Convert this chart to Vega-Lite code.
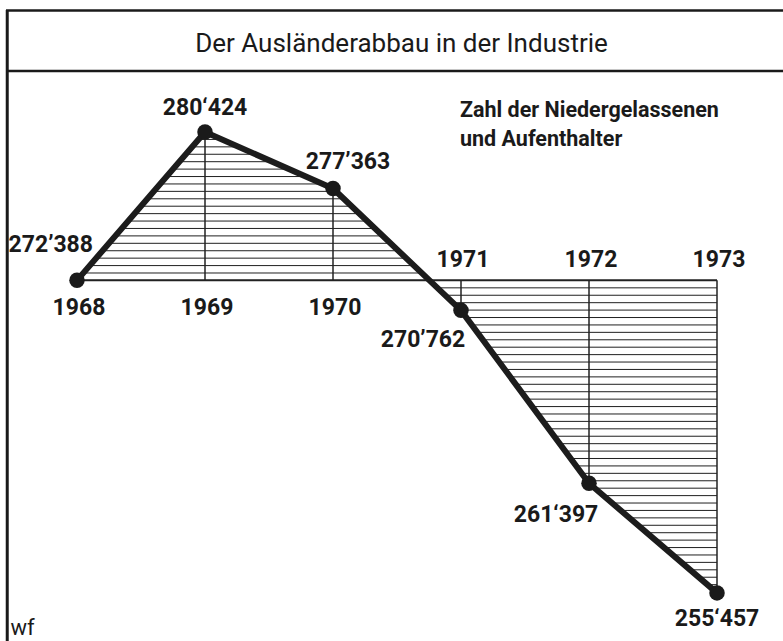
{
  "$schema": "https://vega.github.io/schema/vega-lite/v6.json",
  "width": 777,
  "height": 631,
  "autosize": {"type": "none"},
  "padding": {"left": 6, "top": 10, "right": 0, "bottom": 0},
  "background": "#ffffff",
  "config": {"view": {"stroke": null}},
  "title": {
    "text": "Der Ausländerabbau in der Industrie",
    "anchor": "middle",
    "frame": "group",
    "font": "Roboto",
    "fontSize": 26,
    "fontWeight": "normal",
    "color": "#1a1a1a",
    "baseline": "alphabetic",
    "offset": -69,
    "dx": 7
  },
  "data": {
    "values": [
      {"year": 1968, "value": 272388, "label": "272’388"},
      {"year": 1969, "value": 280424, "label": "280‘424"},
      {"year": 1970, "value": 277363, "label": "277’363"},
      {"year": 1971, "value": 270762, "label": "270’762"},
      {"year": 1972, "value": 261397, "label": "261‘397"},
      {"year": 1973, "value": 255457, "label": "255‘457"}
    ]
  },
  "layer": [
    {
      "mark": {
        "type": "area",
        "stroke": null,
        "fill": {
          "gradient": "linear", "x1": 0, "y1": 0, "x2": 0, "y2": 1,
          "stops": [
            {"offset": 0, "color": "#ffffff"},
            {"offset": 0.0139, "color": "#ffffff"}, {"offset": 0.0161, "color": "#222222"}, {"offset": 0.0183, "color": "#ffffff"},
            {"offset": 0.0300, "color": "#ffffff"}, {"offset": 0.0322, "color": "#222222"}, {"offset": 0.0344, "color": "#ffffff"},
            {"offset": 0.0461, "color": "#ffffff"}, {"offset": 0.0483, "color": "#222222"}, {"offset": 0.0505, "color": "#ffffff"},
            {"offset": 0.0622, "color": "#ffffff"}, {"offset": 0.0644, "color": "#222222"}, {"offset": 0.0666, "color": "#ffffff"},
            {"offset": 0.0783, "color": "#ffffff"}, {"offset": 0.0805, "color": "#222222"}, {"offset": 0.0827, "color": "#ffffff"},
            {"offset": 0.0944, "color": "#ffffff"}, {"offset": 0.0966, "color": "#222222"}, {"offset": 0.0988, "color": "#ffffff"},
            {"offset": 0.1105, "color": "#ffffff"}, {"offset": 0.1127, "color": "#222222"}, {"offset": 0.1149, "color": "#ffffff"},
            {"offset": 0.1266, "color": "#ffffff"}, {"offset": 0.1288, "color": "#222222"}, {"offset": 0.1310, "color": "#ffffff"},
            {"offset": 0.1427, "color": "#ffffff"}, {"offset": 0.1449, "color": "#222222"}, {"offset": 0.1471, "color": "#ffffff"},
            {"offset": 0.1588, "color": "#ffffff"}, {"offset": 0.1610, "color": "#222222"}, {"offset": 0.1632, "color": "#ffffff"},
            {"offset": 0.1749, "color": "#ffffff"}, {"offset": 0.1771, "color": "#222222"}, {"offset": 0.1793, "color": "#ffffff"},
            {"offset": 0.1910, "color": "#ffffff"}, {"offset": 0.1932, "color": "#222222"}, {"offset": 0.1954, "color": "#ffffff"},
            {"offset": 0.2071, "color": "#ffffff"}, {"offset": 0.2093, "color": "#222222"}, {"offset": 0.2115, "color": "#ffffff"},
            {"offset": 0.2232, "color": "#ffffff"}, {"offset": 0.2254, "color": "#222222"}, {"offset": 0.2276, "color": "#ffffff"},
            {"offset": 0.2393, "color": "#ffffff"}, {"offset": 0.2415, "color": "#222222"}, {"offset": 0.2437, "color": "#ffffff"},
            {"offset": 0.2554, "color": "#ffffff"}, {"offset": 0.2576, "color": "#222222"}, {"offset": 0.2598, "color": "#ffffff"},
            {"offset": 0.2715, "color": "#ffffff"}, {"offset": 0.2737, "color": "#222222"}, {"offset": 0.2759, "color": "#ffffff"},
            {"offset": 0.2876, "color": "#ffffff"}, {"offset": 0.2898, "color": "#222222"}, {"offset": 0.2920, "color": "#ffffff"},
            {"offset": 0.3037, "color": "#ffffff"}, {"offset": 0.3059, "color": "#222222"}, {"offset": 0.3081, "color": "#ffffff"},
            {"offset": 0.3198, "color": "#ffffff"}, {"offset": 0.3220, "color": "#222222"}, {"offset": 0.3242, "color": "#ffffff"},
            {"offset": 0.3359, "color": "#ffffff"}, {"offset": 0.3381, "color": "#222222"}, {"offset": 0.3403, "color": "#ffffff"},
            {"offset": 0.3520, "color": "#ffffff"}, {"offset": 0.3542, "color": "#222222"}, {"offset": 0.3564, "color": "#ffffff"},
            {"offset": 0.3681, "color": "#ffffff"}, {"offset": 0.3703, "color": "#222222"}, {"offset": 0.3725, "color": "#ffffff"},
            {"offset": 0.3842, "color": "#ffffff"}, {"offset": 0.3864, "color": "#222222"}, {"offset": 0.3886, "color": "#ffffff"},
            {"offset": 0.4003, "color": "#ffffff"}, {"offset": 0.4025, "color": "#222222"}, {"offset": 0.4047, "color": "#ffffff"},
            {"offset": 0.4164, "color": "#ffffff"}, {"offset": 0.4186, "color": "#222222"}, {"offset": 0.4208, "color": "#ffffff"},
            {"offset": 0.4325, "color": "#ffffff"}, {"offset": 0.4347, "color": "#222222"}, {"offset": 0.4369, "color": "#ffffff"},
            {"offset": 0.4486, "color": "#ffffff"}, {"offset": 0.4508, "color": "#222222"}, {"offset": 0.4530, "color": "#ffffff"},
            {"offset": 0.4647, "color": "#ffffff"}, {"offset": 0.4669, "color": "#222222"}, {"offset": 0.4691, "color": "#ffffff"},
            {"offset": 0.4808, "color": "#ffffff"}, {"offset": 0.4830, "color": "#222222"}, {"offset": 0.4852, "color": "#ffffff"},
            {"offset": 0.4969, "color": "#ffffff"}, {"offset": 0.4991, "color": "#222222"}, {"offset": 0.5013, "color": "#ffffff"},
            {"offset": 0.5130, "color": "#ffffff"}, {"offset": 0.5152, "color": "#222222"}, {"offset": 0.5174, "color": "#ffffff"},
            {"offset": 0.5291, "color": "#ffffff"}, {"offset": 0.5313, "color": "#222222"}, {"offset": 0.5335, "color": "#ffffff"},
            {"offset": 0.5452, "color": "#ffffff"}, {"offset": 0.5474, "color": "#222222"}, {"offset": 0.5496, "color": "#ffffff"},
            {"offset": 0.5613, "color": "#ffffff"}, {"offset": 0.5635, "color": "#222222"}, {"offset": 0.5657, "color": "#ffffff"},
            {"offset": 0.5774, "color": "#ffffff"}, {"offset": 0.5796, "color": "#222222"}, {"offset": 0.5818, "color": "#ffffff"},
            {"offset": 0.5935, "color": "#ffffff"}, {"offset": 0.5957, "color": "#222222"}, {"offset": 0.5979, "color": "#ffffff"},
            {"offset": 0.6096, "color": "#ffffff"}, {"offset": 0.6118, "color": "#222222"}, {"offset": 0.6140, "color": "#ffffff"},
            {"offset": 0.6257, "color": "#ffffff"}, {"offset": 0.6279, "color": "#222222"}, {"offset": 0.6301, "color": "#ffffff"},
            {"offset": 0.6418, "color": "#ffffff"}, {"offset": 0.6440, "color": "#222222"}, {"offset": 0.6462, "color": "#ffffff"},
            {"offset": 0.6579, "color": "#ffffff"}, {"offset": 0.6601, "color": "#222222"}, {"offset": 0.6623, "color": "#ffffff"},
            {"offset": 0.6740, "color": "#ffffff"}, {"offset": 0.6762, "color": "#222222"}, {"offset": 0.6784, "color": "#ffffff"},
            {"offset": 0.6901, "color": "#ffffff"}, {"offset": 0.6923, "color": "#222222"}, {"offset": 0.6945, "color": "#ffffff"},
            {"offset": 0.7062, "color": "#ffffff"}, {"offset": 0.7084, "color": "#222222"}, {"offset": 0.7106, "color": "#ffffff"},
            {"offset": 0.7223, "color": "#ffffff"}, {"offset": 0.7245, "color": "#222222"}, {"offset": 0.7267, "color": "#ffffff"},
            {"offset": 0.7384, "color": "#ffffff"}, {"offset": 0.7406, "color": "#222222"}, {"offset": 0.7428, "color": "#ffffff"},
            {"offset": 0.7545, "color": "#ffffff"}, {"offset": 0.7567, "color": "#222222"}, {"offset": 0.7589, "color": "#ffffff"},
            {"offset": 0.7706, "color": "#ffffff"}, {"offset": 0.7728, "color": "#222222"}, {"offset": 0.7750, "color": "#ffffff"},
            {"offset": 0.7867, "color": "#ffffff"}, {"offset": 0.7889, "color": "#222222"}, {"offset": 0.7911, "color": "#ffffff"},
            {"offset": 0.8028, "color": "#ffffff"}, {"offset": 0.8050, "color": "#222222"}, {"offset": 0.8072, "color": "#ffffff"},
            {"offset": 0.8189, "color": "#ffffff"}, {"offset": 0.8211, "color": "#222222"}, {"offset": 0.8233, "color": "#ffffff"},
            {"offset": 0.8350, "color": "#ffffff"}, {"offset": 0.8372, "color": "#222222"}, {"offset": 0.8394, "color": "#ffffff"},
            {"offset": 0.8511, "color": "#ffffff"}, {"offset": 0.8533, "color": "#222222"}, {"offset": 0.8555, "color": "#ffffff"},
            {"offset": 0.8672, "color": "#ffffff"}, {"offset": 0.8694, "color": "#222222"}, {"offset": 0.8716, "color": "#ffffff"},
            {"offset": 0.8833, "color": "#ffffff"}, {"offset": 0.8855, "color": "#222222"}, {"offset": 0.8877, "color": "#ffffff"},
            {"offset": 0.8994, "color": "#ffffff"}, {"offset": 0.9016, "color": "#222222"}, {"offset": 0.9038, "color": "#ffffff"},
            {"offset": 0.9155, "color": "#ffffff"}, {"offset": 0.9177, "color": "#222222"}, {"offset": 0.9199, "color": "#ffffff"},
            {"offset": 0.9316, "color": "#ffffff"}, {"offset": 0.9338, "color": "#222222"}, {"offset": 0.9360, "color": "#ffffff"},
            {"offset": 0.9477, "color": "#ffffff"}, {"offset": 0.9499, "color": "#222222"}, {"offset": 0.9521, "color": "#ffffff"},
            {"offset": 0.9638, "color": "#ffffff"}, {"offset": 0.9660, "color": "#222222"}, {"offset": 0.9682, "color": "#ffffff"},
            {"offset": 0.9799, "color": "#ffffff"}, {"offset": 0.9821, "color": "#222222"}, {"offset": 0.9843, "color": "#ffffff"},
            {"offset": 1, "color": "#ffffff"}
          ]
        }
      },
      "encoding": {
        "x": {
          "field": "year", "type": "quantitative",
          "scale": {"domain": [1967.4453, 1973.5156], "nice": false, "zero": false},
          "axis": null
        },
        "y": {
          "field": "value", "type": "quantitative",
          "scale": {"domain": [252851, 287033], "nice": false, "zero": false},
          "axis": null
        },
        "y2": {"datum": 272388}
      }
    },
    {
      "mark": {"type": "rule", "color": "#222222", "strokeWidth": 1.5},
      "encoding": {
        "x": {"field": "year", "type": "quantitative", "axis": null},
        "y": {"field": "value", "type": "quantitative", "axis": null},
        "y2": {"datum": 272388}
      }
    },
    {
      "data": {"values": [{}]},
      "mark": {"type": "rule", "color": "#222222", "strokeWidth": 2},
      "encoding": {
        "x": {"datum": 1968, "type": "quantitative", "axis": null},
        "x2": {"datum": 1973},
        "y": {"datum": 272388, "type": "quantitative", "axis": null}
      }
    },
    {
      "data": {"values": [{}]},
      "mark": {"type": "rule", "color": "#1a1a1a", "strokeWidth": 2.5},
      "encoding": {
        "y": {"datum": 283728, "type": "quantitative", "axis": null}
      }
    },
    {
      "data": {"values": [{}]},
      "mark": {"type": "rule", "color": "#1a1a1a", "strokeWidth": 2.5},
      "encoding": {
        "y": {"datum": 287000, "type": "quantitative", "axis": null}
      }
    },
    {
      "data": {"values": [{}]},
      "mark": {"type": "rule", "color": "#1a1a1a", "strokeWidth": 3},
      "encoding": {
        "x": {"datum": 1967.455, "type": "quantitative", "axis": null}
      }
    },
    {
      "mark": {"type": "line", "color": "#1c1c1c", "strokeWidth": 6, "strokeCap": "round", "strokeJoin": "round"},
      "encoding": {
        "x": {"field": "year", "type": "quantitative", "axis": null},
        "y": {"field": "value", "type": "quantitative", "axis": null}
      }
    },
    {
      "mark": {"type": "circle", "color": "#1a1a1a", "size": 240, "opacity": 1},
      "encoding": {
        "x": {"field": "year", "type": "quantitative", "axis": null},
        "y": {"field": "value", "type": "quantitative", "axis": null}
      }
    },
    {
      "transform": [{"filter": "datum.year <= 1970"}],
      "mark": {"type": "text", "font": "Roboto", "fontSize": 23, "fontWeight": "bold", "color": "#1a1a1a", "align": "center", "baseline": "middle", "dy": 27.5, "dx": 2},
      "encoding": {
        "x": {"field": "year", "type": "quantitative", "axis": null},
        "y": {"datum": 272388, "type": "quantitative", "axis": null},
        "text": {"field": "year", "type": "nominal"}
      }
    },
    {
      "transform": [{"filter": "datum.year >= 1971"}],
      "mark": {"type": "text", "font": "Roboto", "fontSize": 23, "fontWeight": "bold", "color": "#1a1a1a", "align": "center", "baseline": "middle", "dy": -20.5, "dx": 2},
      "encoding": {
        "x": {"field": "year", "type": "quantitative", "axis": null},
        "y": {"datum": 272388, "type": "quantitative", "axis": null},
        "text": {"field": "year", "type": "nominal"}
      }
    },
    {
      "transform": [{"filter": "datum.year == 1968"}],
      "mark": {"type": "text", "font": "Roboto", "fontSize": 23, "fontWeight": "bold", "color": "#1a1a1a", "align": "right", "baseline": "middle", "dx": 16, "dy": -35},
      "encoding": {
        "x": {"field": "year", "type": "quantitative", "axis": null},
        "y": {"field": "value", "type": "quantitative", "axis": null},
        "text": {"field": "label", "type": "nominal"}
      }
    },
    {
      "transform": [{"filter": "datum.year == 1969"}],
      "mark": {"type": "text", "font": "Roboto", "fontSize": 23, "fontWeight": "bold", "color": "#1a1a1a", "align": "center", "baseline": "middle", "dx": 0, "dy": -24.5},
      "encoding": {
        "x": {"field": "year", "type": "quantitative", "axis": null},
        "y": {"field": "value", "type": "quantitative", "axis": null},
        "text": {"field": "label", "type": "nominal"}
      }
    },
    {
      "transform": [{"filter": "datum.year == 1970"}],
      "mark": {"type": "text", "font": "Roboto", "fontSize": 23, "fontWeight": "bold", "color": "#1a1a1a", "align": "center", "baseline": "middle", "dx": 15, "dy": -27},
      "encoding": {
        "x": {"field": "year", "type": "quantitative", "axis": null},
        "y": {"field": "value", "type": "quantitative", "axis": null},
        "text": {"field": "label", "type": "nominal"}
      }
    },
    {
      "transform": [{"filter": "datum.year == 1971"}],
      "mark": {"type": "text", "font": "Roboto", "fontSize": 23, "fontWeight": "bold", "color": "#1a1a1a", "align": "center", "baseline": "middle", "dx": -38, "dy": 29.5},
      "encoding": {
        "x": {"field": "year", "type": "quantitative", "axis": null},
        "y": {"field": "value", "type": "quantitative", "axis": null},
        "text": {"field": "label", "type": "nominal"}
      }
    },
    {
      "transform": [{"filter": "datum.year == 1972"}],
      "mark": {"type": "text", "font": "Roboto", "fontSize": 23, "fontWeight": "bold", "color": "#1a1a1a", "align": "center", "baseline": "middle", "dx": -33, "dy": 31.5},
      "encoding": {
        "x": {"field": "year", "type": "quantitative", "axis": null},
        "y": {"field": "value", "type": "quantitative", "axis": null},
        "text": {"field": "label", "type": "nominal"}
      }
    },
    {
      "transform": [{"filter": "datum.year == 1973"}],
      "mark": {"type": "text", "font": "Roboto", "fontSize": 23, "fontWeight": "bold", "color": "#1a1a1a", "align": "center", "baseline": "middle", "dx": 0, "dy": 26.5},
      "encoding": {
        "x": {"field": "year", "type": "quantitative", "axis": null},
        "y": {"field": "value", "type": "quantitative", "axis": null},
        "text": {"field": "label", "type": "nominal"}
      }
    },
    {
      "data": {"values": [{}]},
      "mark": {"type": "text", "text": ["Zahl der Niedergelassenen", "und Aufenthalter"], "font": "Roboto", "fontSize": 21.5, "fontWeight": "bold", "color": "#1a1a1a", "align": "left", "baseline": "alphabetic", "lineHeight": 29},
      "encoding": {
        "x": {"datum": 1970.992, "type": "quantitative", "axis": null},
        "y": {"datum": 281237, "type": "quantitative", "axis": null}
      }
    },
    {
      "data": {"values": [{}]},
      "mark": {"type": "text", "text": "wf", "font": "Roboto", "fontSize": 22, "color": "#1a1a1a", "align": "left", "baseline": "alphabetic"},
      "encoding": {
        "x": {"datum": 1967.48, "type": "quantitative", "axis": null},
        "y": {"datum": 253180, "type": "quantitative", "axis": null}
      }
    }
  ]
}
